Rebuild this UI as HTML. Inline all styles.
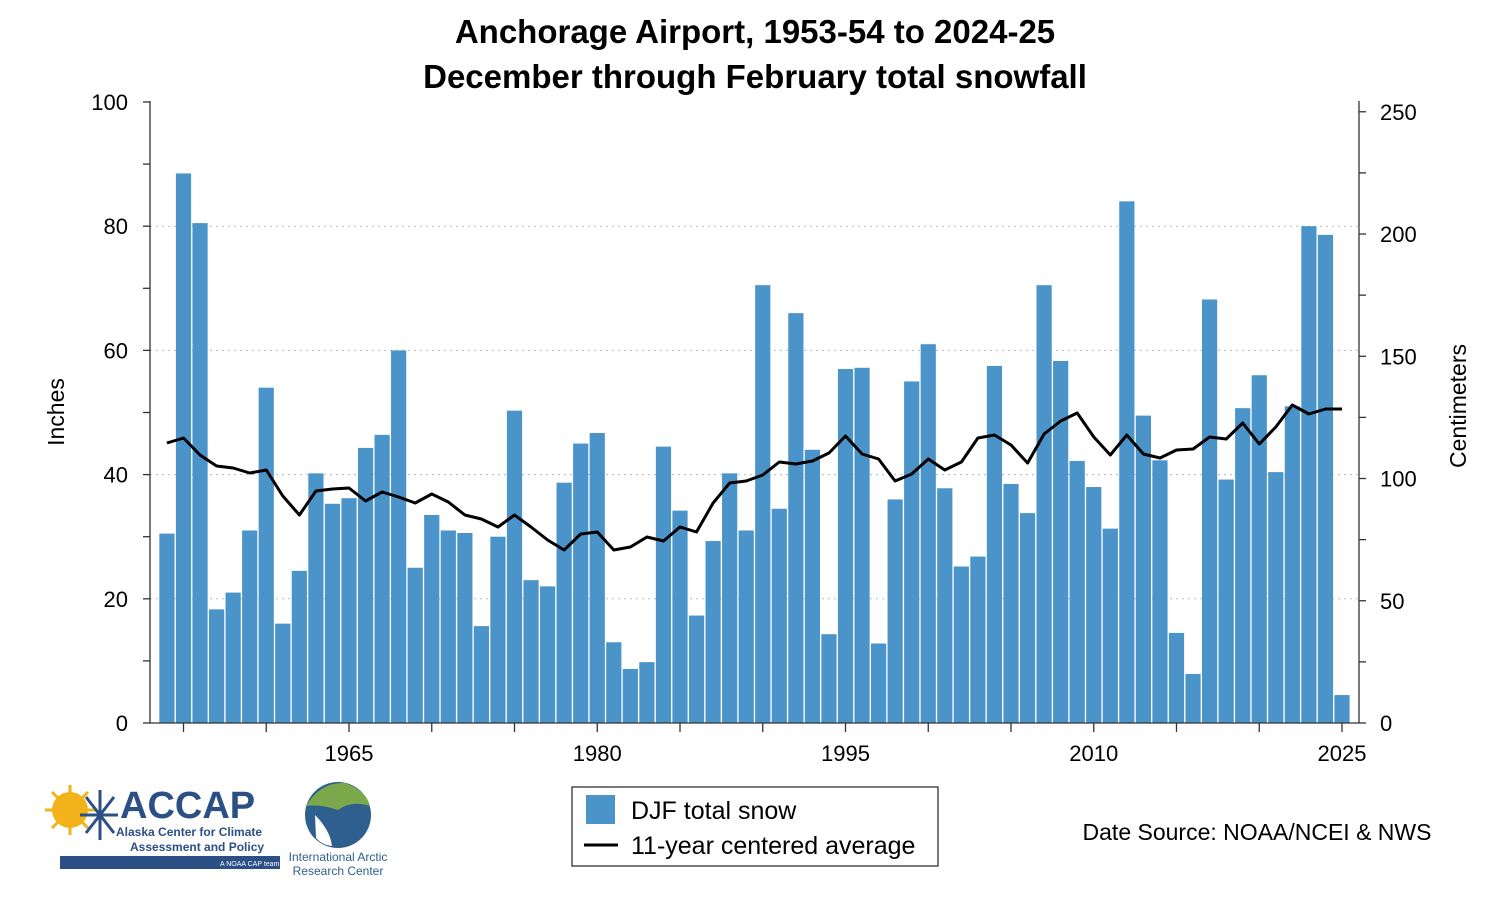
<!DOCTYPE html>
<html><head><meta charset="utf-8"><style>
html,body{margin:0;padding:0;background:#fff;}
svg{display:block;font-family:"Liberation Sans","DejaVu Sans",sans-serif;}
</style></head><body>
<svg id="s" width="1500" height="900" xmlns="http://www.w3.org/2000/svg">
<rect width="1500" height="900" fill="#fff"/>
<text x="755" y="43" text-anchor="middle" font-size="33" font-weight="bold" fill="#000">Anchorage Airport, 1953-54 to 2024-25</text>
<text x="755" y="88" text-anchor="middle" font-size="33" font-weight="bold" fill="#000">December through February total snowfall</text>
<g id="grid"></g>
<g id="bars"></g>
<polyline id="avg" fill="none" stroke="#000" stroke-width="3" stroke-linejoin="round"/>
<g id="axes" stroke="#333" stroke-width="1.3" fill="none">
<line x1="150" y1="101" x2="150" y2="723"/>
<line x1="1359" y1="101" x2="1359" y2="723"/>
<line x1="150" y1="723" x2="1359" y2="723"/>
</g>
<g id="ticks" stroke="#333" stroke-width="1.3"></g>
<g id="labels" font-size="22" fill="#000"></g>
<text transform="translate(64,412) rotate(-90)" text-anchor="middle" font-size="23">Inches</text>
<text transform="translate(1466,406) rotate(-90)" text-anchor="middle" font-size="23">Centimeters</text>
<rect x="572" y="787" width="366" height="79" fill="#fff" stroke="#333" stroke-width="1.3"/>
<rect x="586" y="795" width="29" height="29" fill="#4a94c9"/>
<text x="631" y="819" font-size="25">DJF total snow</text>
<line x1="584" y1="845" x2="618" y2="845" stroke="#000" stroke-width="3"/>
<text x="631" y="854" font-size="25">11-year centered average</text>
<text x="1257" y="840" text-anchor="middle" font-size="23">Date Source: NOAA/NCEI &amp; NWS</text>
<circle cx="70" cy="810" r="18" fill="#f2b21a"/>
<g stroke="#f2b21a" stroke-width="3"><line x1="45" y1="810" x2="95" y2="810"/><line x1="70" y1="785" x2="70" y2="835"/><line x1="52" y1="792" x2="88" y2="828"/><line x1="88" y1="792" x2="52" y2="828"/></g>
<g stroke="#2c4f86" stroke-width="3"><line x1="100" y1="790" x2="100" y2="840"/><line x1="80" y1="815" x2="118" y2="815"/><line x1="86" y1="797" x2="114" y2="833"/><line x1="114" y1="797" x2="86" y2="833"/></g>
<text x="120" y="818" font-size="38" font-weight="bold" fill="#2c4f86">ACCAP</text>
<text x="116" y="836" font-size="12" font-weight="bold" fill="#2c4f86">Alaska Center for Climate</text>
<text x="130" y="851" font-size="12" font-weight="bold" fill="#2c4f86">Assessment and Policy</text>
<rect x="60" y="856" width="220" height="13" fill="#2c4f86"/>
<text x="220" y="866" font-size="7" fill="#fff">A NOAA CAP team</text>
<circle cx="338" cy="815" r="33" fill="#2f5f8f"/>
<path d="M306,806 Q320,782 345,783 Q366,790 370,806 Q352,800 338,810 Q320,804 306,806Z" fill="#7aa84a"/>
<path d="M315,815 Q330,830 332,846 Q322,845 316,838Z" fill="#fff"/>
<text x="338" y="861" text-anchor="middle" font-size="12" fill="#2f5f8f">International Arctic</text>
<text x="338" y="875" text-anchor="middle" font-size="12" fill="#2f5f8f">Research Center</text>
</svg>
<script>
const NS="http://www.w3.org/2000/svg";
function el(t,a,p){const e=document.createElementNS(NS,t);for(const k in a)e.setAttribute(k,a[k]);if(p)p.appendChild(e);return e;}
const y0=723,ppi=6.21;
const vals=[30.5,88.5,80.5,18.3,21,31,54,16,24.5,40.2,35.3,36.2,44.3,46.4,60,25,33.5,31,30.6,15.6,30,50.3,23,22,38.7,45,46.7,13,8.7,9.8,44.5,34.2,17.3,29.3,40.2,31,70.5,34.5,66,44,14.3,57,57.2,12.8,36,55,61,37.8,25.2,26.8,57.5,38.5,33.8,70.5,58.3,42.2,38,31.3,84,49.5,42.3,14.5,7.9,68.2,39.2,50.7,56,40.4,51,80,78.6,4.5];
const avg=[443,438,455,466,468,473,470,496,515,491,489,488,501,492,497,503,494,502,515,519,527,515,527,540,550,534,532,550,547,537,541,527,532,503,483,481,475,462,464,461,453,436,454,459,481,474,459,470,462,438,435,445,463,434,421,413,437,455,435,454,458,450,449,437,439,423,444,427,405,414,409,409];
const xs=yr=>349+(yr-1965)*16.55;
const g=document.getElementById("grid");
[20,40,60,80].forEach(v=>el("line",{x1:150,x2:1359,y1:y0-v*ppi,y2:y0-v*ppi,stroke:"#bbb","stroke-width":1,"stroke-dasharray":"2,4"},g));
const b=document.getElementById("bars");
vals.forEach((v,i)=>{const x=xs(1954+i);el("rect",{x:x-7.6,y:y0-v*ppi,width:15.2,height:v*ppi,fill:"#4a94c9"},b);});
document.getElementById("avg").setAttribute("points",avg.map((y,i)=>xs(1954+i).toFixed(1)+","+y).join(" "));
const t=document.getElementById("ticks"),L=document.getElementById("labels");
for(let v=0;v<=100;v+=10){const y=y0-v*ppi;el("line",{x1:143,x2:150,y1:y,y2:y},t);
 if(v%20==0){const tx=el("text",{x:128,y:y+8,"text-anchor":"end"},L);tx.textContent=v;}}
for(let c=0;c<=250;c+=25){const y=y0-c/2.54*ppi;el("line",{x1:1359,x2:1366,y1:y,y2:y},t);
 if(c%50==0){const tx=el("text",{x:1380,y:y+8},L);tx.textContent=c;}}
for(let yr=1955;yr<=2025;yr+=5){const x=xs(yr);el("line",{x1:x,x2:x,y1:723,y2:732},t);}
[1965,1980,1995,2010,2025].forEach(yr=>{const tx=el("text",{x:xs(yr),y:761,"text-anchor":"middle"},L);tx.textContent=yr;});
</script>
</body></html>
